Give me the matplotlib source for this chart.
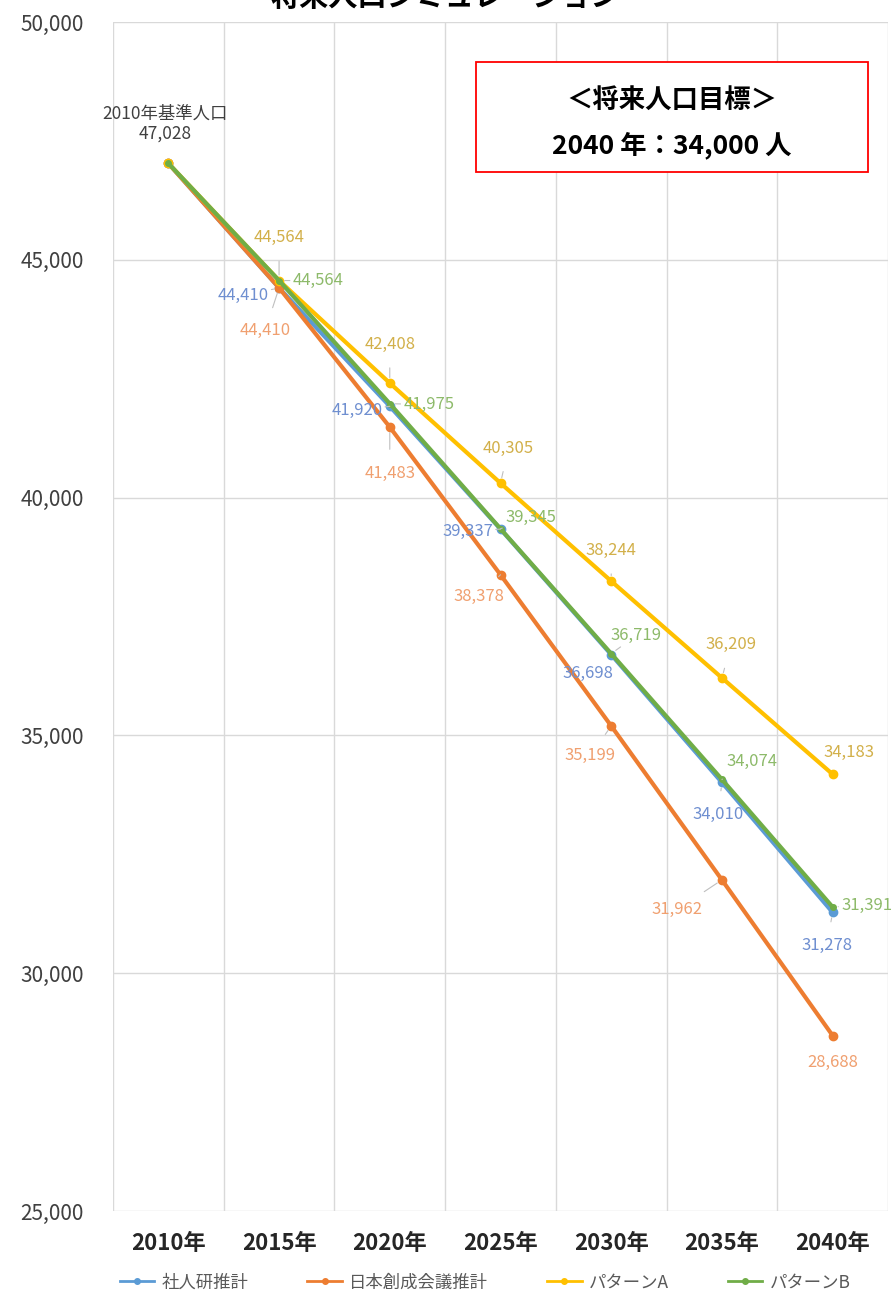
import matplotlib.pyplot as plt
from matplotlib.patches import Rectangle

plt.rcParams['font.family'] = ['Noto Sans CJK JP', 'DejaVu Sans']

years = ["2010年", "2015年", "2020年", "2025年", "2030年", "2035年", "2040年"]
ipss = [47028, 44410, 41920, 39337, 36698, 34010, 31278]
nihon = [47028, 44410, 41483, 38378, 35199, 31962, 28688]
pattern_a = [47028, 44564, 42408, 40305, 38244, 36209, 34183]
pattern_b = [47028, 44564, 41975, 39345, 36719, 34074, 31391]
series_names = ["社人研推計", "日本創成会議推計", "パターンA", "パターンB"]

colors = ["#5B9BD5", "#ED7D31", "#FFC000", "#70AD47"]
label_colors = ["#6F8FD0", "#F0A070", "#D2B04A", "#8DBA6A"]

# label offsets in pixels (dx, dy) for points 1..6, per series
offsets = [
    [(-36, -8), (-33, -4), (-33, -2), (-23, -19), (-4, -32), (-6, -33)],
    [(-14, -43), (0, -46), (-22, -22), (-21, -30), (-45, -30), (0, -27)],
    [(0, 43), (0, 39), (8, 35), (0, 31), (9, 33), (16, 22)],
    [(39, 0), (39, -1), (30, 11), (25, 18), (30, 18), (34, 2)],
]

fig = plt.figure(figsize=(8.92, 12.93), dpi=100)
ax = fig.add_axes([113 / 892, 1 - 1211 / 1293, 775 / 892, 1189 / 1293])

x = list(range(len(years)))
all_series = [ipss, nihon, pattern_a, pattern_b]
for i, vals in enumerate(all_series):
    ax.plot(x, vals, color=colors[i], lw=3, marker="o",
            ms=6 if i != 3 else 4, label=series_names[i], zorder=3 + i)

for i, vals in enumerate(all_series):
    for j in range(1, len(vals)):
        dx, dy = offsets[i][j - 1]
        far = (dx * dx + dy * dy) ** 0.5 > 30
        ax.annotate(f"{vals[j]:,}", (x[j], vals[j]), xytext=(dx, dy),
                    textcoords="offset pixels", ha="center", va="center",
                    fontsize=12, color=label_colors[i], zorder=10,
                    arrowprops=dict(arrowstyle="-", color="#BFBFBF", lw=0.8,
                                    shrinkA=9, shrinkB=4) if far else None)

ax.annotate("2010年基準人口\n47,028", (0, 47028), xytext=(-3, 40),
            textcoords="offset pixels", ha="center", va="center",
            fontsize=12.5, color="#404040", linespacing=1.15)

ax.set_xlim(-0.5, 6.5)
ax.set_ylim(25000, 50000)
ax.set_yticks(range(25000, 50001, 5000))
ax.set_yticklabels([f"{v:,}" for v in range(25000, 50001, 5000)],
                   fontsize=15, color="#404040")
ax.set_xticks(x)
ax.set_xticklabels(years, fontsize=16, color="#262626", fontweight="bold")
ax.set_xticks([k + 0.5 for k in range(-1, 7)], minor=True)
ax.tick_params(which="both", length=0)
ax.tick_params(axis="x", pad=15)
ax.tick_params(axis="y", pad=21)
ax.grid(axis="y", color="#D9D9D9", lw=1)
ax.grid(axis="x", which="minor", color="#D9D9D9", lw=1)
for s in ax.spines.values():
    s.set_visible(False)
ax.set_axisbelow(True)

leg = ax.legend(loc="center", bbox_to_anchor=(0.48, -0.06), ncol=4,
                frameon=False, fontsize=12.5, handlelength=2.0,
                handletextpad=0.4, columnspacing=3.4, labelcolor="#595959")
for h in leg.legend_handles:
    h.set_linewidth(2)
    h.set_markersize(4)

# target box
fig.patches.append(Rectangle((476 / 892, 1 - 172 / 1293), 392 / 892, 110 / 1293,
                             transform=fig.transFigure, fc="white",
                             ec="#FF0000", lw=1.3, zorder=5))
fig.text(672 / 892, 1 - 100 / 1293, "＜将来人口目標＞", ha="center",
         va="center", fontsize=19, fontweight="bold", zorder=6)
fig.text(672 / 892, 1 - 145 / 1293, "2040 年：34,000 人", ha="center",
         va="center", fontsize=19, fontweight="bold", zorder=6)

# chart title, mostly cut off at the top edge as in the source image
fig.text(445 / 892, 1 - 6 / 1293, "将来人口シミュレーション", ha="center",
         va="baseline", fontsize=21, fontweight="bold")

fig.savefig("out.png", dpi=100)
